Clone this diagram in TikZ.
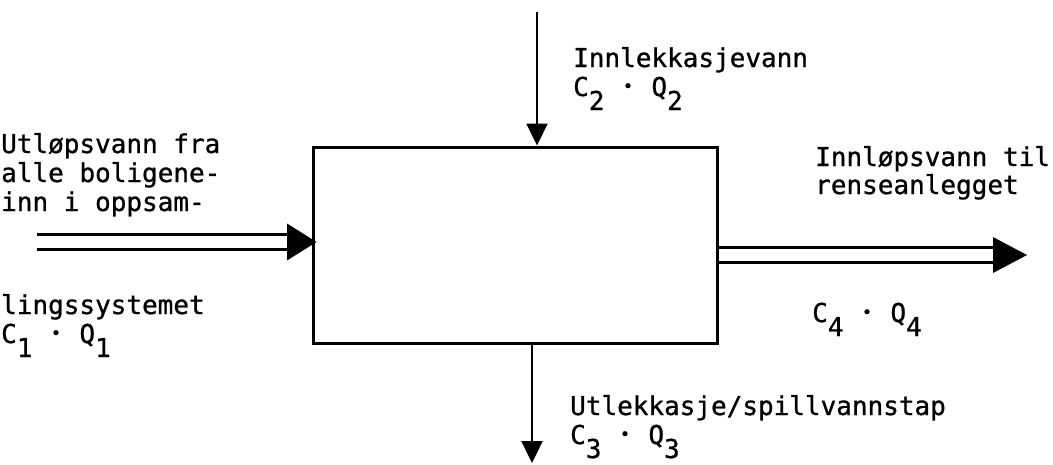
\documentclass[tikz,border=0pt]{standalone}
\usepackage{fontspec}
\newfontfamily\twfont[FakeBold=0.9]{DejaVu Sans Mono}
\usetikzlibrary{arrows.meta,calc}
\newcommand\lowr[1]{\raisebox{-14pt}{#1}}
\newcommand\mdot{\makebox[0.602em]{\raisebox{4pt}{\fontsize{17}{17}\selectfont •}}}
\begin{document}
\begin{tikzpicture}[x=1pt,y=-1pt,
  lbl/.style={font=\twfont\fontsize{26}{29}\selectfont, anchor=base west, inner sep=0pt},
  boxst/.style={draw, line width=3pt, minimum width=404pt, minimum height=196pt, inner sep=0pt},
  flow/.style={line width=2.4pt, -{Triangle[length=22pt,width=21pt]}},
  dflow/.style={line width=2.4pt, double distance=12.6pt},
  headst/.style={fill=black}]
\useasboundingbox (0,0) rectangle (1053,464);
\node[boxst] (box) at (515,245) {};
% labels
\node[lbl] (in1a) at (1,153) {Utløpsvann fra};
\node[lbl] (in1b) at (1,182) {alle boligene-};
\node[lbl] (in1c) at (1,211) {inn i oppsam-};
\node[lbl] (in1d) at (1,314) {lingssystemet};
\node[lbl] (in1e) at (1,343) {C\lowr{1} \mdot{} Q\lowr{1}};
\node[lbl] (in2a) at (573,67) {Innlekkasjevann};
\node[lbl] (in2b) at (573,96) {C\lowr{2} \mdot{} Q\lowr{2}};
\node[lbl] (out4a) at (815,166) {Innløpsvann til};
\node[lbl] (out4b) at (815,194) {renseanlegget};
\node[lbl] (out4c) at (812,322) {C\lowr{4} \mdot{} Q\lowr{4}};
\node[lbl] (out3a) at (570,415) {Utlekkasje/spillvannstap};
\node[lbl] (out3b) at (570,444) {C\lowr{3} \mdot{} Q\lowr{3}};
% single arrows
\coordinate (topstart) at (537,12);
\draw[flow] (topstart) -- (topstart |- box.north);
\coordinate (botend) at (532,463);
\draw[flow] (botend |- box.south) -- (botend);
% double arrow in
\coordinate (lstart) at (37,242);
\coordinate (lback) at (287,242);
\draw[dflow] (lstart) -- (lback);
\fill[headst] ($(lback)+(0,-18.5)$) -- ($(box.west |- lback)+(5,0)$) -- ($(lback)+(0,18.5)$) -- cycle;
% double arrow out
\coordinate (rback) at (993,255);
\draw[dflow] (box.east |- rback) -- (rback);
\fill[headst] ($(rback)+(0,-18)$) -- ($(rback)+(34,0)$) -- ($(rback)+(0,18)$) -- cycle;
\end{tikzpicture}
\end{document}
